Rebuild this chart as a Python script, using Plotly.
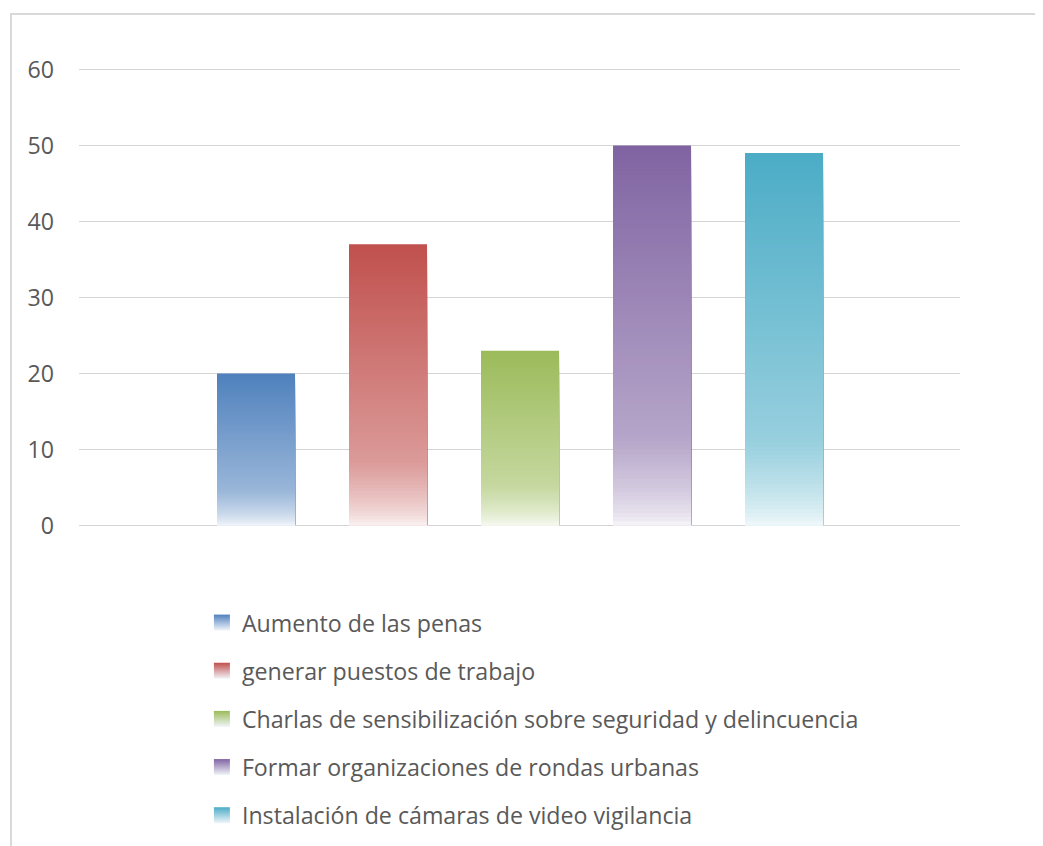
import plotly.graph_objects as go

categories = [
    "Aumento de las penas",
    "generar puestos de trabajo",
    "Charlas de sensibilización sobre seguridad y delincuencia",
    "Formar organizaciones de rondas urbanas",
    "Instalación de cámaras de video vigilancia",
]
values = [20, 37, 23, 50, 49]
colors = ["#4F81BD", "#C0504D", "#9BBB59", "#8064A2", "#4BACC6"]
y_ticks = [0, 10, 20, 30, 40, 50, 60]

N_LEVELS = 90

# page body has an 8px margin: figure is laid out in page coordinates minus 8
FIG_W, FIG_H = 1035, 838
PLOT_L, PLOT_R, PLOT_T, PLOT_B = 71, 952, 60, 519
FONT = "Open Sans"
FONT_SIZE = 23.2
TEXT_COLOR = "#595959"


def hex_to_rgb(h):
    h = h.lstrip("#")
    return tuple(int(h[i:i + 2], 16) for i in (0, 2, 4))


def white_mix(f):
    # f: 0 at bottom of bar, 1 at top
    if f >= 0.23:
        return 0.42 * (1 - f) / 0.77
    t = f / 0.23
    return 0.94 - (0.94 - 0.42) * (t ** 0.7)


def shade(hexc, f):
    r, g, b = hex_to_rgb(hexc)
    w = white_mix(f)
    # alpha just under 1 makes plotly snap bar edges to whole pixels
    return "rgba(%d,%d,%d,0.999)" % (
        round(r + (255 - r) * w),
        round(g + (255 - g) * w),
        round(b + (255 - b) * w),
    )


fig = go.Figure()

# gradient bars: tallest first, progressively shorter layers drawn on top
for k in range(N_LEVELS, 0, -1):
    f = (k - 0.5) / N_LEVELS
    fig.add_trace(go.Bar(
        x=categories,
        y=[v * k / N_LEVELS for v in values],
        marker=dict(color=[shade(c, f) for c in colors], line=dict(width=0)),
        showlegend=False,
        hoverinfo="skip",
    ))

# legend entries
for i, (name, c) in enumerate(zip(categories, colors)):
    fig.add_trace(go.Scatter(
        x=[None], y=[None],
        mode="markers",
        name=name,
        legendgroup=name,
        marker=dict(symbol="square", size=16, color=c,
                    gradient=dict(type="vertical", color="#F2F5FA"),
                    line=dict(width=0)),
    ))

plot_h = PLOT_B - PLOT_T
plot_w = PLOT_R - PLOT_L

fig.update_layout(
    width=FIG_W,
    height=FIG_H,
    margin=dict(l=PLOT_L, r=FIG_W - PLOT_R, t=PLOT_T, b=FIG_H - PLOT_B, pad=0),
    paper_bgcolor="white",
    plot_bgcolor="white",
    barmode="overlay",
    bargap=0.409,
    font=dict(family=FONT, size=FONT_SIZE, color=TEXT_COLOR),
    showlegend=True,
    legend=dict(
        orientation="v",
        x=0.1395, xanchor="left", xref="paper",
        y=1 - 593 / FIG_H, yanchor="top", yref="container",
        traceorder="grouped",
        tracegroupgap=15,
        font=dict(family=FONT, size=FONT_SIZE, color=TEXT_COLOR),
        itemsizing="trace",
    ),
    hovermode=False,
)

fig.update_xaxes(
    type="category",
    range=[-1.341, 5.333],
    showticklabels=False,
    showgrid=False,
    zeroline=False,
    showline=False,
    ticks="",
)
fig.update_yaxes(
    range=[-0.2, 60.2],
    tickvals=y_ticks,
    showgrid=True,
    gridcolor="#D4D4D4",
    gridwidth=1.2,
    zeroline=False,
    showline=False,
    ticks="",
    ticklabelstandoff=24,
    tickfont=dict(family=FONT, size=FONT_SIZE, color=TEXT_COLOR),
)

# chart area frame (light border), page (11,14) -> figure (3,6)
fig.add_shape(
    type="rect", xref="paper", yref="paper",
    x0=(3 - PLOT_L) / plot_w, x1=1.2, y0=-1.0, y1=1 + (PLOT_T - 6) / plot_h,
    line=dict(color="#D9D9D9", width=2), fillcolor="rgba(0,0,0,0)",
    layer="below",
)

fig.write_html("out.html")
